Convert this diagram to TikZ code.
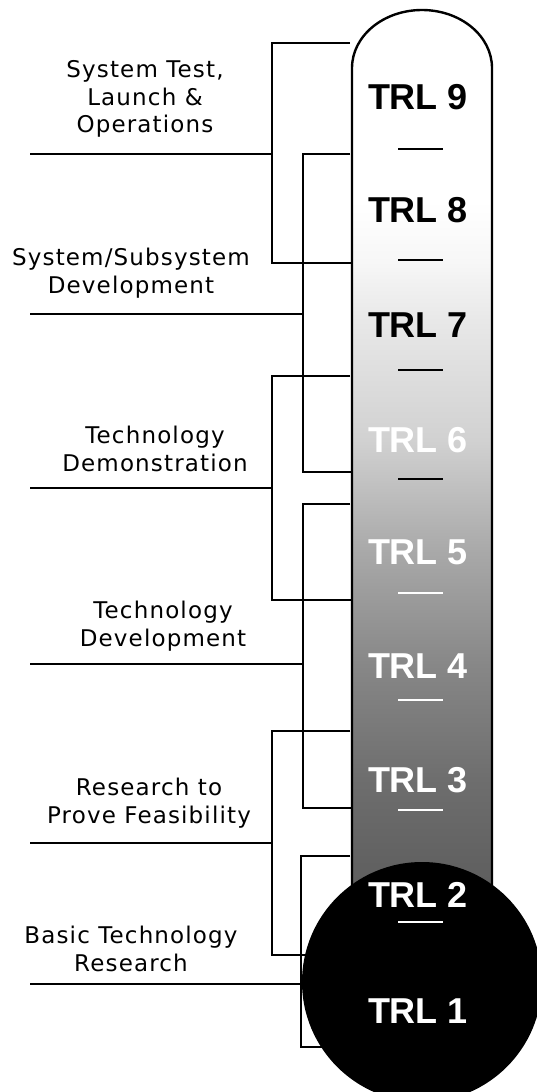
\documentclass[tikz,border=0pt]{standalone}
\usepackage{fontspec}
\usepackage{xcolor}
\usepackage{tikz}
\newfontfamily\catfont[LetterSpace=5]{DejaVu Sans}
\newfontfamily\trlfont{Liberation Sans}

% tube grey scale, dark at the bulb, white at the top
\pgfdeclareverticalshading{tubeshade}{100bp}{color(0bp)=(black!64); color(25bp)=(black!64);
  color(27bp)=(black!62); color(31.8bp)=(black!57); color(38.3bp)=(black!47);
  color(44.6bp)=(black!34); color(50.9bp)=(black!18); color(57.6bp)=(black!9);
  color(61bp)=(black!3); color(64.3bp)=(white); color(100bp)=(white)}

\tikzset{
  bracket/.style={line width=2.3pt},
  wall/.style={line width=2.4pt},
  cat/.style={font=\catfont\fontsize{23}{27.5}\selectfont, align=center, inner sep=0pt},
  trl/.style={font=\trlfont\bfseries\fontsize{36}{36}\selectfont, inner sep=0pt},
  levelbar/.style={line width=2.3pt}
}

\begin{document}
\begin{tikzpicture}[x=1pt, y=-1pt]
		\clip (0,0) rectangle (537,1092);
		\fill[white] (0,0) rectangle (537,1092);

		% Brackets and lead lines
		\foreach \xb/\ya/\yb/\ym/\n in {272/43/263/154/1, 303/154/472/314/2, 272/376/600/488/3,
		    303/504/808/664/4, 272/731/955/843/5, 301/856/1047/984/6} {
			\coordinate (lead\n) at (30,\ym);
			\draw[bracket] (350,\ya) -| (\xb,\yb) -- (352,\yb);
			\draw[bracket] (lead\n) -- (\xb,\ym);
		}

		% Tube
		\shade[shading=tubeshade] (352,902) -- (352,68)
			arc[start angle=180, end angle=360, x radius=70, y radius=58] -- (492,902) -- cycle;
		\draw[wall] (352,902) -- (352,68)
			arc[start angle=180, end angle=360, x radius=70, y radius=58] -- (492,902);

		% Bulb
		\fill[black] (422,982) circle[radius=120];

		% Levels
		\foreach \n/\y/\c in {9/97/black, 8/210/black, 7/325/black, 6/440/white,
		    5/552/white, 4/666/white, 3/780/white, 2/895/white, 1/1011/white}
			\node[trl, text=\c] (trl\n) at (418,\y) {TRL \n};

		% Separators
		\foreach \y/\c in {149/black, 260/black, 370/black, 479/black,
		    593/white, 700/white, 810/white, 922/white}
			\draw[levelbar, \c] (398,\y) -- (443,\y);

		% Stages
		\node[cat] (test) at (145,99) {System Test,\\Launch \&\\Operations};
		\node[cat] (sys) at (131,273) {System/Subsystem\\Development};
		\node[cat] (demo) at (155,449) {Technology\\Demonstration};
		\node[cat] (dev) at (163,626) {Technology\\Development};
		\node[cat] (feas) at (149,803) {Research to\\Prove Feasibility};
		\node[cat] (basic) at (131,949) {Basic Technology\\Research};
	\end{tikzpicture}
\end{document}
